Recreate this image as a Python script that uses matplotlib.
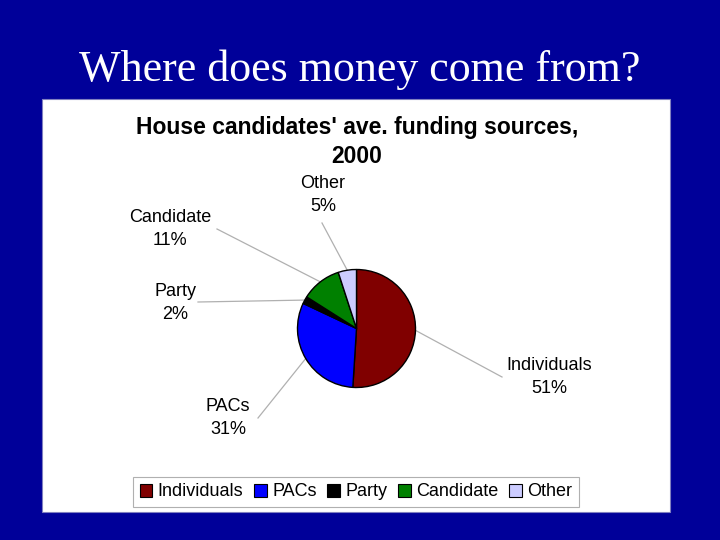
import numpy as np
import matplotlib
import matplotlib.pyplot as plt
from matplotlib.patches import Rectangle, Patch

matplotlib.use("Agg")

# Funding sources, share of total (%)
sources = ["Individuals", "PACs", "Party", "Candidate", "Other"]
shares = [51, 31, 2, 11, 5]
colors = ["#800000", "#0000FF", "#000000", "#008000", "#CCCCFF"]

SLIDE_TITLE = "Where does money come from?"
CHART_TITLE = "House candidates' ave. funding sources,\n2000"

W, H = 720, 540
BG = "#000099"

# label centres in pixels (layout only)
label_pos = {
    "Individuals": (549, 377),
    "PACs": (228, 418),
    "Party": (175, 303),
    "Candidate": (170, 229),
    "Other": (323, 195),
}
# where the leader line meets the label
line_end = {
    "Individuals": (502, 377),
    "PACs": (258, 418),
    "Party": (198, 302),
    "Candidate": (217, 229),
    "Other": (322, 223),
}

CX, CY, R = 356.5, 328.5, 59


def py(y):
    # pixel row -> data y
    return H - y


fig = plt.figure(figsize=(W / 100, H / 100), dpi=100)
fig.patch.set_facecolor(BG)
ax = fig.add_axes([0, 0, 1, 1])

ax.text(W / 2, py(70), SLIDE_TITLE, color="white", fontsize=31.7,
        family="Liberation Serif", ha="center", va="center")

ax.add_patch(Rectangle((42, py(512)), 628, 413, facecolor="white",
                       edgecolor="#8080c0", lw=0.8, zorder=1))

ax.text(357, py(142), CHART_TITLE, fontsize=16.5, fontweight="bold",
        family="Liberation Sans", ha="center", va="center",
        linespacing=1.33, zorder=3)

wedges, _ = ax.pie(shares, colors=colors, startangle=90, counterclock=False,
                   center=(CX, py(CY)), radius=R, frame=True,
                   wedgeprops=dict(edgecolor="black", linewidth=1.0))
for w in wedges:
    w.set_zorder(3)

for w, name, val in zip(wedges, sources, shares):
    mid = np.deg2rad((w.theta1 + w.theta2) / 2)
    x0 = CX + R * np.cos(mid)
    y0 = py(CY) + R * np.sin(mid)
    ex, ey = line_end[name]
    ax.plot([x0, ex], [y0, py(ey)], color="#b0b0b0", lw=0.9, zorder=2)
    lx, ly = label_pos[name]
    ax.text(lx, py(ly), f"{name}\n{val}%", fontsize=13,
            family="Liberation Sans", ha="center", va="center",
            linespacing=1.45, zorder=3)

handles = [Patch(facecolor=c, edgecolor="black", lw=0.8, label=s)
           for s, c in zip(sources, colors)]
leg = ax.legend(handles=handles, loc="center", ncol=5,
                bbox_to_anchor=(356 / W, 1 - 492 / H),
                bbox_transform=fig.transFigure,
                prop=dict(family="Liberation Sans", size=13),
                handlelength=0.7, handleheight=0.7, handletextpad=0.3,
                columnspacing=0.6, borderpad=0.35, fancybox=False,
                edgecolor="#b0b0b0", framealpha=1)
leg.get_frame().set_linewidth(0.8)
leg.set_zorder(4)

ax.set_xlim(0, W)
ax.set_ylim(0, H)
ax.set_aspect("equal")
ax.axis("off")

fig.savefig("out.png", dpi=100, facecolor=BG)
